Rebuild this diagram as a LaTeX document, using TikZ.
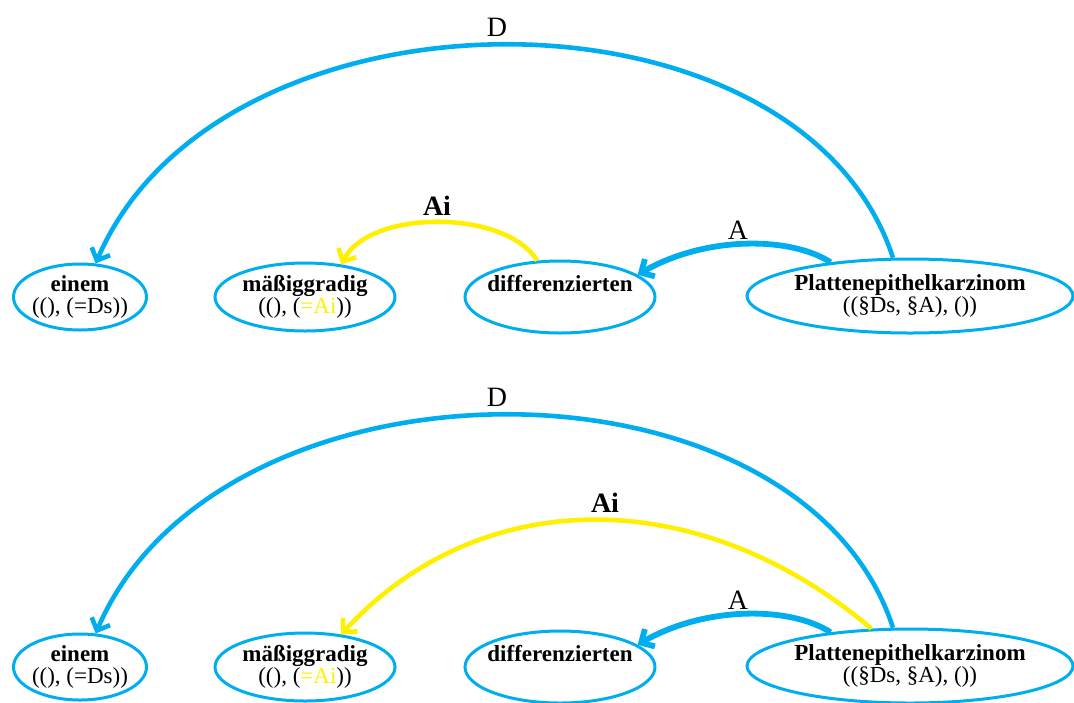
\documentclass[tikz,border=0pt]{standalone}
\usepackage{fontspec}
\setmainfont{Liberation Serif}
\usetikzlibrary{arrows.meta,shapes.geometric}
\definecolor{depblue}{RGB}{0,174,239}
\definecolor{depyellow}{RGB}{255,240,0}
\begin{document}
\begin{tikzpicture}[x=0.5pt,y=-0.5pt,
  word/.style={ellipse, draw=depblue, line width=1.5pt, inner sep=-4pt,
    align=center, font=\fontsize{11.5}{11}\selectfont},
  arc/.style={line width=2.3pt, -{Straight Barb[length=5pt,width=10pt]}},
  bluearc/.style={arc, draw=depblue},
  yellowarc/.style={arc, draw=depyellow},
  thickarc/.style={bluearc, line width=2.9pt},
  rel/.style={font=\fontsize{14}{14}\selectfont, inner sep=1pt}]
\useasboundingbox (0,0) rectangle (1074,702);

% upper analysis
\node[word, minimum width=66.5pt, minimum height=33pt] (einemA) at (80,297)
  {\textbf{einem}\\((), (=Ds))};
\node[word, minimum width=90pt, minimum height=34pt] (massA) at (305,297)
  {\textbf{mäßiggradig}\\((), (\textcolor{depyellow}{=Ai}))};
\node[word, minimum width=95pt, minimum height=36pt] (diffA) at (560,297)
  {\textbf{differenzierten}\\\phantom{()}};
\node[word, minimum width=163pt, minimum height=37pt] (platA) at (910,296)
  {\textbf{Plattenepithelkarzinom}\\((§Ds, §A), ())};

\draw[bluearc] (platA.114) .. controls (800,-27) and (220,-27) .. (einemA.65);
\draw[yellowarc] (diffA.122) .. controls (505,209) and (370,209) .. (massA.42);
\draw[thickarc] (platA.157) .. controls (790,236) and (705,236) .. (diffA.16);
\node[rel] (dA) at (497,27) {D};
\node[rel] (aiA) at (437,206) {\textbf{Ai}};
\node[rel] (aA) at (738,230) {A};

% lower analysis
\node[word, minimum width=66.5pt, minimum height=33pt] (einemB) at (80,667)
  {\textbf{einem}\\((), (=Ds))};
\node[word, minimum width=90pt, minimum height=34pt] (massB) at (305,667)
  {\textbf{mäßiggradig}\\((), (\textcolor{depyellow}{=Ai}))};
\node[word, minimum width=95pt, minimum height=36pt] (diffB) at (560,667)
  {\textbf{differenzierten}\\\phantom{()}};
\node[word, minimum width=163pt, minimum height=37pt] (platB) at (910,666)
  {\textbf{Plattenepithelkarzinom}\\((§Ds, §A), ())};

\draw[bluearc] (platB.114) .. controls (800,343) and (220,343) .. (einemB.65);
\draw[yellowarc] (platB.136) .. controls (700,483) and (480,483) .. (massB.42);
\draw[thickarc] (platB.157) .. controls (790,606) and (705,606) .. (diffB.16);
\node[rel] (dB) at (497,397) {D};
\node[rel] (aiB) at (605,503) {\textbf{Ai}};
\node[rel] (aB) at (738,600) {A};
\end{tikzpicture}
\end{document}
